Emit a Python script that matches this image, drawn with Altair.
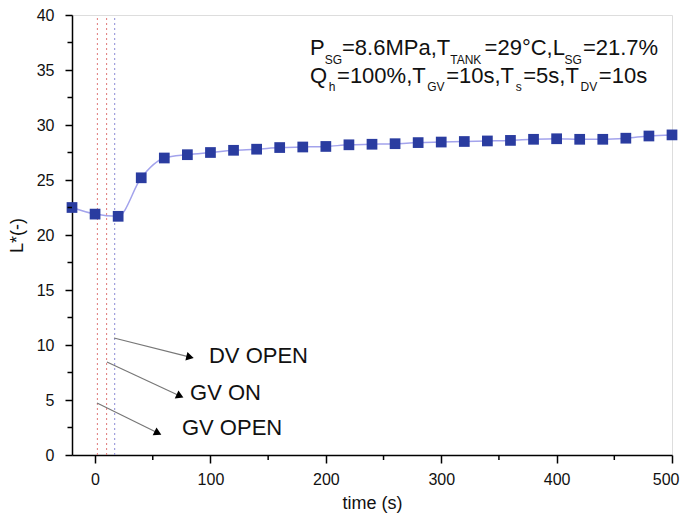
import altair as alt
import pandas as pd

# ---- data ----
time_s = [-20, 0, 20, 40, 60, 80, 100, 120, 140, 160, 180, 200, 220, 240, 260,
          280, 300, 320, 340, 360, 380, 400, 420, 440, 460, 480, 500]
l_star = [22.5, 21.9, 21.7, 25.2, 27.0, 27.3, 27.5, 27.7, 27.8, 27.95, 28.0, 28.05,
          28.2, 28.25, 28.3, 28.4, 28.45, 28.5, 28.55, 28.6, 28.7, 28.75, 28.7,
          28.7, 28.8, 29.0, 29.1]

event_x = [2, 10, 17]
event_color = ["#e07a7a", "#e07a7a", "#8c8cd6"]

x_major = [0, 100, 200, 300, 400, 500]
x_minor = [50, 150, 250, 350, 450]
y_major = [0, 5, 10, 15, 20, 25, 30, 35, 40]
y_minor = [2.5, 7.5, 12.5, 17.5, 22.5, 27.5, 32.5, 37.5]

arrow_labels = ["DV OPEN", "GV ON", "GV OPEN"]
arrow_x0 = [16.4, 10.3, 1.7]
arrow_y0 = [10.64, 8.45, 4.73]
arrow_x1 = [82.3, 73.6, 54.5]
arrow_y1 = [8.9, 5.36, 2.0]
arrow_angle = [14, 25, 26]
label_x = [98.7, 82.3, 75.3]
label_y = [9.0, 5.64, 2.45]

main_text = ["P", "=8.6MPa,T", "=29°C,L", "=21.7%",
             "Q", "=100%,T", "=10s,T", "=5s,T", "=10s"]
main_x = [186.3, 214.0, 337.6, 422.8, 186.3, 209.7, 304.3, 371.1, 436.6]
main_y = [36.36, 36.36, 36.36, 36.36, 33.82, 33.82, 33.82, 33.82, 33.82]
sub_text = ["SG", "TANK", "SG", "h", "GV", "s", "DV"]
sub_x = [199.0, 307.8, 406.9, 202.5, 287.9, 364.5, 420.7]
sub_y = [35.55, 35.55, 35.55, 33.09, 33.09, 33.09, 33.09]

FONT = "Liberation Sans"

df = pd.DataFrame({"t": time_s, "L": l_star})
ev = pd.DataFrame({"x": event_x, "c": event_color, "y0": [0] * 3, "y1": [40] * 3})
arr = pd.DataFrame({"lab": arrow_labels, "x0": arrow_x0, "y0": arrow_y0,
                    "x1": arrow_x1, "y1": arrow_y1, "ang": arrow_angle,
                    "lx": label_x, "ly": label_y})
mt = pd.DataFrame({"text": main_text, "x": main_x, "y": main_y})
st = pd.DataFrame({"text": sub_text, "x": sub_x, "y": sub_y})
xm = pd.DataFrame({"v": x_minor})
ym = pd.DataFrame({"v": y_minor})

xs = alt.Scale(domain=[-20, 500], nice=False, zero=False)
ys = alt.Scale(domain=[0, 40], nice=False, zero=False)

xaxis = alt.Axis(values=x_major, title="time (s)", grid=False, tickSize=8,
                 tickColor="black", domainColor="black", domainWidth=1.5,
                 tickWidth=1.5, labelFontSize=16, labelFont=FONT, labelColor="#111",
                 labelPadding=8, titleFontSize=18, titleFont=FONT, titleFontWeight="normal",
                 titlePadding=7, titleColor="#111", labelFlush=True, labelFlushOffset=7)
yaxis = alt.Axis(values=y_major, title="L*(-)", grid=False, tickSize=7,
                 tickColor="black", domainColor="black", domainWidth=1.5,
                 tickWidth=1.5, labelFontSize=16, labelFont=FONT, labelColor="#111",
                 labelPadding=11, titleFontSize=18, titleFont=FONT, titleFontWeight="normal",
                 titlePadding=10, titleColor="#111", labelFlush=False)

line = alt.Chart(df).mark_line(color="#a3a3ec", strokeWidth=1.5, interpolate="monotone").encode(
    x=alt.X("t:Q", scale=xs, axis=xaxis),
    y=alt.Y("L:Q", scale=ys, axis=yaxis),
)
pts = alt.Chart(df).mark_point(shape="square", filled=True, size=115, opacity=1,
                               color="#2a3ca0").encode(x="t:Q", y="L:Q")

vlines = alt.Chart(ev).mark_rule(strokeDash=[2, 3], strokeWidth=1).encode(
    x="x:Q", y="y0:Q", y2="y1:Q", color=alt.Color("c:N", scale=None))

arrows = alt.Chart(arr).mark_rule(color="#777777", strokeWidth=1.2).encode(
    x="x0:Q", y="y0:Q", x2="x1:Q", y2="y1:Q")
heads = alt.Chart(arr).mark_point(shape="triangle-right", filled=True, opacity=1,
                                  color="black", size=75).encode(
    x="x1:Q", y="y1:Q", angle=alt.Angle("ang:Q", scale=None))
labels = alt.Chart(arr).mark_text(align="left", baseline="middle", fontSize=22,
                                  font=FONT, color="#111").encode(
    x="lx:Q", y="ly:Q", text="lab:N")

mtext = alt.Chart(mt).mark_text(align="left", baseline="alphabetic", fontSize=22,
                                font=FONT, color="#111").encode(x="x:Q", y="y:Q", text="text:N")
stext = alt.Chart(st).mark_text(align="left", baseline="alphabetic", fontSize=12,
                                font=FONT, color="#111").encode(x="x:Q", y="y:Q", text="text:N")

xminor = alt.Chart(xm).mark_rule(color="black", strokeWidth=1.5).encode(
    x="v:Q", y=alt.value(440), y2=alt.value(445))
yminor = alt.Chart(ym).mark_rule(color="black", strokeWidth=1.5).encode(
    y="v:Q", x=alt.value(0), x2=alt.value(-4.5))

chart = alt.layer(vlines, line, pts, arrows, heads, labels, mtext, stext, xminor, yminor).properties(
    width=600, height=440,
    autosize=alt.AutoSizeParams(type="none"),
    padding={"left": 64, "top": 7, "right": 9, "bottom": 59},
).configure_view(stroke="black", strokeWidth=1.5).configure(background="white")

chart.save("out.html", embed_options={"renderer": "svg", "actions": False})
